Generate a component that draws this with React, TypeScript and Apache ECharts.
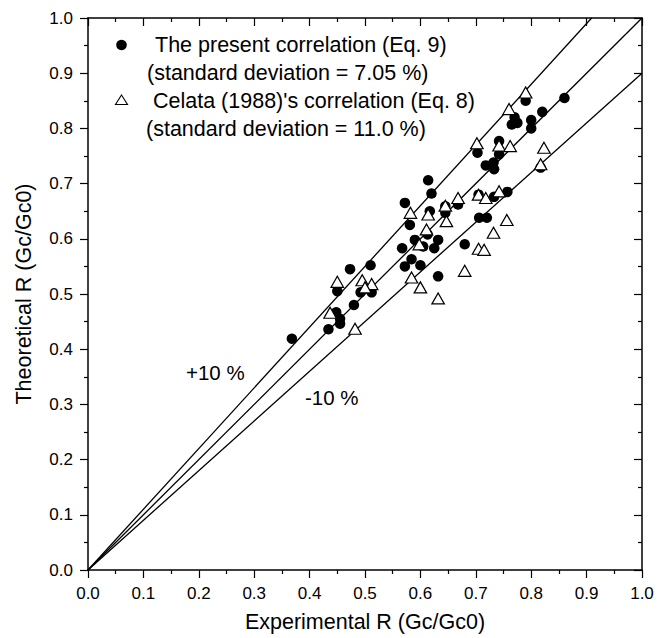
import React, { useEffect, useRef } from "react";
import * as echarts from "echarts";

const presentCorrelation: number[][] = [
  [0.368, 0.419], [0.434, 0.436], [0.448, 0.467], [0.455, 0.455], [0.455, 0.446],
  [0.45, 0.505], [0.48, 0.48], [0.473, 0.545], [0.492, 0.503], [0.512, 0.503],
  [0.51, 0.552], [0.572, 0.665], [0.614, 0.706], [0.62, 0.682], [0.617, 0.65],
  [0.645, 0.659], [0.645, 0.647], [0.668, 0.662], [0.581, 0.625], [0.613, 0.608],
  [0.59, 0.598], [0.632, 0.598], [0.567, 0.583], [0.605, 0.586], [0.625, 0.583],
  [0.584, 0.563], [0.572, 0.55], [0.6, 0.552], [0.632, 0.532], [0.68, 0.59],
  [0.706, 0.638], [0.72, 0.638], [0.705, 0.68], [0.733, 0.676], [0.757, 0.685],
  [0.718, 0.733], [0.733, 0.726], [0.703, 0.756], [0.742, 0.777], [0.742, 0.753],
  [0.732, 0.738], [0.817, 0.729], [0.765, 0.807], [0.77, 0.82], [0.775, 0.81],
  [0.8, 0.815], [0.8, 0.8], [0.79, 0.85], [0.82, 0.83], [0.86, 0.855],
];

const celataCorrelation: number[][] = [
  [0.437, 0.466], [0.45, 0.522], [0.482, 0.437], [0.495, 0.525], [0.512, 0.518],
  [0.5, 0.512], [0.582, 0.647], [0.614, 0.644], [0.647, 0.632], [0.645, 0.66],
  [0.668, 0.674], [0.705, 0.68], [0.718, 0.674], [0.611, 0.617], [0.598, 0.59],
  [0.584, 0.53], [0.6, 0.512], [0.632, 0.492], [0.68, 0.542], [0.705, 0.582],
  [0.715, 0.58], [0.732, 0.611], [0.756, 0.634], [0.742, 0.686], [0.702, 0.773],
  [0.742, 0.769], [0.762, 0.768], [0.823, 0.765], [0.817, 0.735], [0.76, 0.835],
  [0.79, 0.865],
];

const referenceSlopes: number[] = [1.1, 1.0, 0.9];

const legendLines: string[] = [
  "The present correlation (Eq. 9)",
  "(standard deviation = 7.05 %)",
  "Celata (1988)'s correlation (Eq. 8)",
  "(standard deviation = 11.0 %)",
];

const FONT = "'Liberation Sans', Arial, Helvetica, sans-serif";

function refLine(s: number): number[][] {
  const xEnd = Math.min(1, 1 / s);
  return [[0, 0], [xEnd, s * xEnd]];
}

export default function App() {
  const ref = useRef<HTMLDivElement>(null);
  useEffect(() => {
    if (!ref.current) return;
    const chart = echarts.init(ref.current, undefined, { renderer: "svg" });
    const lineStyleBlack = { color: "#000", width: 1.5 };
    const tickStyle = { color: "#000", width: 1.2 };
    const mk = (pos: string, inside: boolean, extra: any) => ({
      type: "value",
      position: pos,
      min: 0,
      max: 1,
      interval: 0.1,
      axisLine: { show: true, onZero: false, lineStyle: lineStyleBlack },
      splitLine: { show: false },
      axisTick: { show: true, inside, length: 8, lineStyle: tickStyle },
      minorTick: { show: true, splitNumber: 2, length: 4, lineStyle: tickStyle },
      ...extra,
    });
    const mainLabel = {
      color: "#000",
      fontSize: 17,
      fontFamily: FONT,
      formatter: (v: number) => v.toFixed(1),
    };
    const titleStyle = { color: "#000", fontSize: 21.5, fontFamily: FONT };
    const textStyle = { fill: "#000", fontSize: 21.5, fontFamily: FONT, textVerticalAlign: "middle" };
    const annoStyle = { fill: "#000", fontSize: 20.5, fontFamily: FONT, textVerticalAlign: "middle" };
    chart.setOption({
      animation: false,
      backgroundColor: "#fff",
      grid: { left: 88, right: 15, top: 18, bottom: 66 },
      xAxis: [
        mk("bottom", false, {
          name: "Experimental R (Gc/Gc0)",
          nameLocation: "middle",
          nameGap: 41,
          nameTextStyle: titleStyle,
          axisLabel: { ...mainLabel, margin: 15 },
        }),
        mk("top", true, { axisLabel: { show: false } }),
      ],
      yAxis: [
        mk("left", false, {
          name: "Theoretical R (Gc/Gc0)",
          nameLocation: "middle",
          nameGap: 53,
          nameTextStyle: titleStyle,
          axisLabel: { ...mainLabel, margin: 15 },
        }),
        mk("right", true, { axisLabel: { show: false } }),
      ],
      series: [
        ...referenceSlopes.map((s) => ({
          type: "line",
          data: refLine(s),
          symbol: "none",
          lineStyle: { color: "#000", width: 1.3 },
          silent: true,
          z: 1,
        })),
        {
          name: "Celata (1988)'s correlation (Eq. 8)",
          type: "scatter",
          data: celataCorrelation,
          symbol: "triangle",
          symbolSize: [12.5, 11],
          itemStyle: { color: "#fff", borderColor: "#000", borderWidth: 1.2, opacity: 1 },
          z: 3,
        },
        {
          name: "The present correlation (Eq. 9)",
          type: "scatter",
          data: presentCorrelation,
          symbol: "circle",
          symbolSize: 10.5,
          itemStyle: { color: "#000", opacity: 1 },
          z: 2,
        },
      ],
      graphic: [
        { type: "circle", shape: { cx: 121.5, cy: 45, r: 5.3 }, style: { fill: "#000" } },
        {
          type: "polygon",
          shape: { points: [[121.5, 95], [127.5, 104.5], [115.5, 104.5]] },
          style: { fill: "#fff", stroke: "#000", lineWidth: 1.1 },
        },
        { type: "text", x: 155, y: 45, style: { ...textStyle, text: legendLines[0] } },
        { type: "text", x: 147, y: 73, style: { ...textStyle, text: legendLines[1] } },
        { type: "text", x: 153, y: 101, style: { ...textStyle, text: legendLines[2] } },
        { type: "text", x: 146, y: 129, style: { ...textStyle, text: legendLines[3] } },
        { type: "text", x: 186, y: 372, style: { ...annoStyle, text: "+10 %" } },
        { type: "text", x: 305, y: 397, style: { ...annoStyle, text: "-10 %" } },
      ],
    });
    return () => chart.dispose();
  }, []);
  return (
    <div
      ref={ref}
      style={{ position: "absolute", left: 0, top: 0, width: 657, height: 638 }}
    />
  );
}
